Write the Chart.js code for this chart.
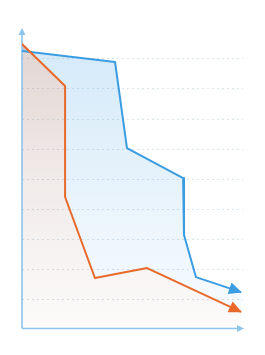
<!DOCTYPE html>
<html>
<head>
<meta charset="utf-8">
<script src="https://cdn.jsdelivr.net/npm/chart.js@4"></script>
<style>
html,body{margin:0;padding:0;background:#fff;}
#wrap{width:265px;height:355px;position:relative;}
</style>
</head>
<body>
<div id="wrap"><canvas id="c" width="265" height="355"></canvas></div>
<script>
// Data (x: 0..100, y: 0..100)
const blueX = [0, 42.1, 47.5, 72.9, 73.3, 78.7, 99.1];
const blueY = [92.7, 89, 60.3, 50.3, 31.3, 17.3, 12.3];
const orangeX = [0, 19.5, 19.5, 33, 56.6, 99.1];
const orangeY = [95, 81, 44, 17, 20.3, 5.7];
const gridTicks = [10, 20, 30, 40, 50, 60, 70, 80, 90];

const BLUE = '#3b9ce2';
const ORANGE = '#e8692a';
const AXIS = '#8ec4ea';

const toPts = (xs, ys) => xs.map((x, i) => ({x: x, y: ys[i]}));

function grad(ctx, area, stops) {
  const g = ctx.createLinearGradient(0, area.top, 0, area.bottom);
  stops.forEach(s => g.addColorStop(s[0], s[1]));
  return g;
}

const axesArrows = {
  id: 'axesArrows',
  beforeDatasetsDraw(chart) {
    const {ctx, chartArea: a} = chart;
    const x0 = a.left, yb = a.bottom - 0.5;
    ctx.save();
    ctx.strokeStyle = AXIS;
    ctx.fillStyle = AXIS;
    ctx.lineWidth = 1.6;
    ctx.beginPath();
    ctx.moveTo(x0, yb);
    ctx.lineTo(x0, a.top + 4);
    ctx.moveTo(x0, yb);
    ctx.lineTo(a.right - 4, yb);
    ctx.stroke();
    ctx.beginPath();
    ctx.moveTo(x0, a.top - 1);
    ctx.lineTo(x0 - 3.5, a.top + 6);
    ctx.lineTo(x0 + 3.5, a.top + 6);
    ctx.closePath();
    ctx.fill();
    ctx.beginPath();
    ctx.moveTo(a.right + 1, yb);
    ctx.lineTo(a.right - 6, yb - 3.5);
    ctx.lineTo(a.right - 6, yb + 3.5);
    ctx.closePath();
    ctx.fill();
    ctx.restore();
  },
  afterDatasetsDraw(chart) {
    const {ctx} = chart;
    chart.data.datasets.forEach((ds, di) => {
      const meta = chart.getDatasetMeta(di);
      const pts = meta.data;
      const p1 = pts[pts.length - 2], p2 = pts[pts.length - 1];
      const ang = Math.atan2(p2.y - p1.y, p2.x - p1.x);
      const L = 12, W = 6;
      ctx.save();
      ctx.fillStyle = ds.borderColor;
      ctx.translate(p2.x, p2.y);
      ctx.rotate(ang);
      ctx.beginPath();
      ctx.moveTo(1, 0);
      ctx.lineTo(-L, -W);
      ctx.lineTo(-L, W);
      ctx.closePath();
      ctx.fill();
      ctx.restore();
    });
  }
};

new Chart(document.getElementById('c'), {
  type: 'line',
  data: {
    datasets: [
      {
        data: toPts(orangeX, orangeY),
        borderColor: ORANGE,
        borderWidth: 2,
        pointRadius: 0,
        tension: 0,
        borderJoinStyle: 'round',
        fill: 'origin',
        backgroundColor: (c) => {
          const a = c.chart.chartArea;
          if (!a) return 'rgba(158,118,108,0.2)';
          return grad(c.chart.ctx, a, [[0, 'rgba(158,118,108,0.32)'], [0.5, 'rgba(158,118,108,0.15)'], [1, 'rgba(158,118,108,0.03)']]);
        }
      },
      {
        data: toPts(blueX, blueY),
        borderColor: BLUE,
        borderWidth: 2,
        pointRadius: 0,
        tension: 0,
        borderJoinStyle: 'round',
        fill: 0,
        backgroundColor: (c) => {
          const a = c.chart.chartArea;
          if (!a) return 'rgba(115,185,235,0.2)';
          return grad(c.chart.ctx, a, [[0, 'rgba(115,185,235,0.32)'], [0.6, 'rgba(115,185,235,0.15)'], [1, 'rgba(115,185,235,0.05)']]);
        }
      }
    ]
  },
  options: {
    responsive: false,
    animation: false,
    events: [],
    layout: {padding: {left: 22, right: 22, top: 29, bottom: 26}},
    plugins: {legend: {display: false}, tooltip: {enabled: false}, filler: {drawTime: 'beforeDatasetsDraw'}},
    scales: {
      x: {
        type: 'linear', min: 0, max: 100,
        display: true,
        ticks: {display: false},
        border: {display: false},
        grid: {display: false, drawTicks: false}
      },
      y: {
        type: 'linear', min: 0, max: 100,
        display: true,
        afterBuildTicks: (s) => { s.ticks = gridTicks.map(v => ({value: v})); },
        ticks: {display: false},
        border: {display: false, dash: [2, 3]},
        grid: {
          drawTicks: false,
          color: 'rgba(200,215,228,0.7)',
          lineWidth: 1
        }
      }
    }
  },
  plugins: [axesArrows]
});
</script>
</body>
</html>
